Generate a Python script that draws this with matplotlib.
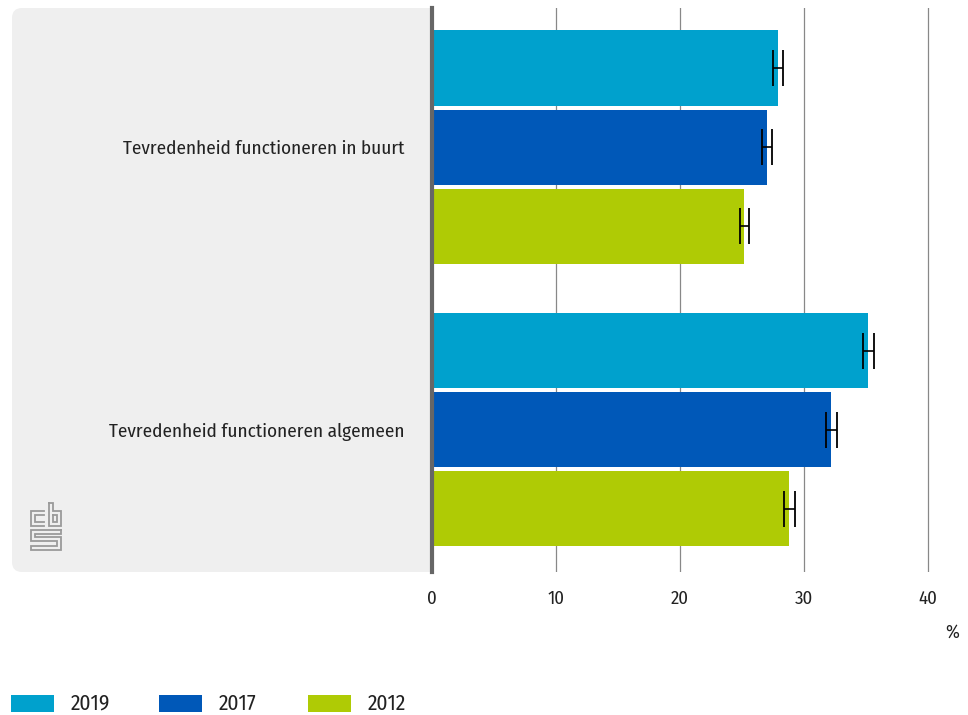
import numpy as np
import matplotlib.pyplot as plt
from matplotlib import font_manager as fm
from matplotlib.patches import FancyBboxPatch, Rectangle

available = {f.name for f in fm.fontManager.ttflist}
for cand in ['Fira Sans Condensed', 'Roboto Condensed', 'PT Sans Narrow',
             'Archivo Narrow', 'Liberation Sans Narrow', 'Open Sans']:
    if cand in available:
        font = cand
        break
else:
    font = 'DejaVu Sans'
plt.rcParams['font.family'] = [font, 'DejaVu Sans']

categories = ["Tevredenheid functioneren in buurt", "Tevredenheid functioneren algemeen"]
years = ["2019", "2017", "2012"]
values = {
    "2019": [27.9, 35.2],
    "2017": [27.0, 32.2],
    "2012": [25.2, 28.8],
}
errors = {
    "2019": [0.4, 0.45],
    "2017": [0.4, 0.45],
    "2012": [0.4, 0.45],
}
colors = {"2019": "#00a1cd", "2017": "#0058b8", "2012": "#afcb05"}
ticks = [0, 10, 20, 30, 40]

W, H = 968, 715
fig = plt.figure(figsize=(W / 100, H / 100), dpi=100)

# background overlay in pixel coordinates (grey panel, logo, legend)
bg = fig.add_axes([0, 0, 1, 1], zorder=0)
bg.set_xlim(0, W)
bg.set_ylim(H, 0)
bg.axis('off')
bg.add_patch(FancyBboxPatch((12, 8), 420, 564, boxstyle="round,pad=0,rounding_size=10",
                            facecolor="#efefef", edgecolor="none"))
bg.add_patch(Rectangle((400, 8), 32, 564, facecolor="#efefef", edgecolor="none"))

logo = [
    [(44, 511), (31, 511), (31, 526), (44, 526)],
    [(44, 515), (35, 515), (35, 522), (44, 522)],
    [(49, 503), (49, 526), (61, 526), (61, 511), (53, 511), (53, 503), (49, 503)],
    [(53, 515), (57, 515), (57, 522), (53, 522), (53, 515)],
    [(61, 530), (31, 530), (31, 541), (57, 541), (57, 546), (31, 546), (31, 550),
     (61, 550), (61, 537), (35, 537), (35, 534), (61, 534), (61, 530)],
]
for seg in logo:
    xs, ys = zip(*seg)
    bg.plot(xs, ys, color="#9a9a9a", lw=1.3, solid_joinstyle='miter')

# legend
for yr, lx in zip(years, [11, 159, 308]):
    bg.add_patch(Rectangle((lx, 695), 43, 17, facecolor=colors[yr], edgecolor='none'))
    bg.text(lx + 60, 703.5, yr, fontsize=15.5, color="#222222", ha='left', va='center')

# main axes
x0, top, bottom = 432, 8, 572
ax = fig.add_axes([x0 / W, 1 - bottom / H, (W - x0) / W, (bottom - top) / H], zorder=1)
ax.patch.set_alpha(0)

pitch = 79 / 282.5
height = 75 / 282.5
y = np.arange(len(categories))
for i, yr in enumerate(years):
    pos = y + (i - 1) * pitch
    ax.barh(pos, values[yr], height=height, color=colors[yr], zorder=2)
    ax.errorbar(values[yr], pos, xerr=errors[yr], fmt='none', ecolor='black',
                elinewidth=1.2, capsize=13.3, capthick=1.3, zorder=3)

ax.set_xlim(0, (W - x0) / 12.4)
ax.set_ylim(1.504, -0.492)
ax.set_xticks(ticks)
ax.set_xticklabels([str(t) for t in ticks], fontsize=13.5, color="#222222")
ax.tick_params(axis='x', length=0, pad=13)
ax.set_yticks(y)
ax.set_yticklabels(categories, fontsize=13.8, color="#222222")
ax.tick_params(axis='y', length=0, pad=19.5)
for s in ['top', 'right', 'bottom']:
    ax.spines[s].set_visible(False)
ax.spines['left'].set_color('#666666')
ax.spines['left'].set_linewidth(3)
ax.spines['left'].set_zorder(4)
ax.grid(axis='x', color='#888888', lw=0.9, zorder=0)
ax.set_axisbelow(True)

fig.text(952 / W, 1 - 633 / H, "%", fontsize=13.5, color="#222222", ha='center', va='center')

fig.savefig("out.png", dpi=100)
